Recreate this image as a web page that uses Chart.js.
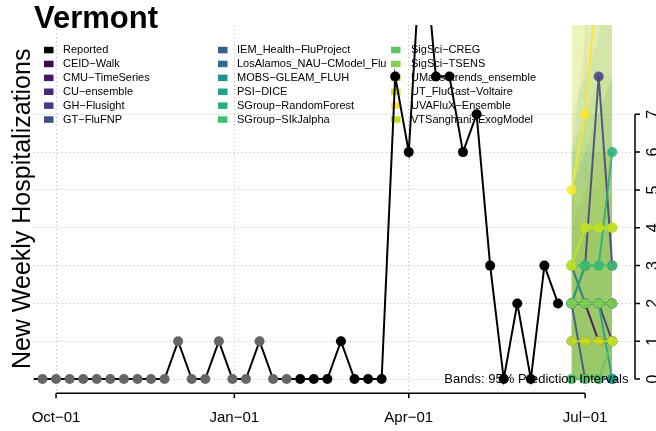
<!DOCTYPE html>
<html>
<head>
<meta charset="utf-8">
<script src="https://cdn.jsdelivr.net/npm/chart.js@4.4.0/dist/chart.umd.min.js"></script>
<style>
  html, body { margin: 0; padding: 0; background: #fff; }
  #wrap { width: 656px; height: 431px; }
</style>
</head>
<body>
<div id="wrap"><canvas id="chart" width="656" height="431"></canvas></div>
<script>
// Reported weekly hospitalizations (weeks ending Saturday)
const reportedDates = [
    '2022-09-17', '2022-09-24', '2022-10-01', '2022-10-08', '2022-10-15', '2022-10-22',
    '2022-10-29', '2022-11-05', '2022-11-12', '2022-11-19', '2022-11-26', '2022-12-03',
    '2022-12-10', '2022-12-17', '2022-12-24', '2022-12-31', '2023-01-07', '2023-01-14',
    '2023-01-21', '2023-01-28', '2023-02-04', '2023-02-11', '2023-02-18', '2023-02-25',
    '2023-03-04', '2023-03-11', '2023-03-18', '2023-03-25', '2023-04-01', '2023-04-08',
    '2023-04-15', '2023-04-22', '2023-04-29', '2023-05-06', '2023-05-13', '2023-05-20',
    '2023-05-27', '2023-06-03', '2023-06-10', '2023-06-17'
];
const reportedValues = [
    0, 0, 0, 0, 0, 0,
    0, 0, 0, 0, 0, 1,
    0, 0, 1, 0, 0, 1,
    0, 0, 0, 0, 0, 1,
    0, 0, 0, 8, 6, 12,
    8, 8, 6, 7, 3, 0,
    2, 0, 3, 2
];
// weeks before this date are drawn with gray points
const firstBlackDate = '2023-02-04';

// Forecasts (4 weekly horizons)
const forecastDates = ['2023-06-24', '2023-07-01', '2023-07-08', '2023-07-15'];
const modelNames = [
    'CEID-Walk', 'CMU-TimeSeries', 'CU-ensemble', 'GH-Flusight', 'GT-FluFNP',
    'IEM_Health-FluProject', 'LosAlamos_NAU-CModel_Flu', 'MOBS-GLEAM_FLUH', 'PSI-DICE',
    'SGroup-RandomForest', 'SGroup-SIkJalpha', 'SigSci-CREG', 'SigSci-TSENS',
    'UMass-trends_ensemble', 'UT_FluCast-Voltaire', 'UVAFluX-Ensemble', 'VTSanghani-ExogModel'
];
const modelColors = [
    '#440154', '#481769', '#472a7a', '#433d84', '#3d4e8a',
    '#355e8d', '#2e6d8e', '#21918c', '#1fa088',
    '#28ae80', '#3fbc73', '#5ec962', '#84d44b',
    '#addc30', '#d2e21b', '#fde725', '#c2df23'
];
const modelMedians = [
    [2, 2, 1, 1], [2, 2, 2, 2], [2, 2, 2, 1], [2, 3, 8, 3], [2, 0, 0, 0],
    [1, 1, 1, 1], [3, 2, 2, 2], [0, 0, 0, 0], [2, 2, 2, 0],
    [2, 3, 3, 6], [3, 3, 3, 3], [0, 0, 0, 1], [2, 2, 2, 2],
    [3, 4, 4, 4], [1, 1, 1, 1], [5, 7, 11, 12], [3, 4, 4, 4]
];
// upper end of 95% intervals (lower ends are 0)
const modelUpper = [
    [4, 5, 6, 6], [5, 6, 7, 8], [4, 5, 5, 6], [6, 9, 14, 9], [5, 4, 4, 4],
    [3, 4, 4, 5], [6, 6, 7, 7], [3, 3, 4, 4], [5, 6, 6, 6],
    [7, 8, 9, 12], [6, 7, 7, 8], [4, 4, 5, 6], [6, 7, 8, 8],
    [10, 11, 12, 12], [5, 5, 6, 6], [12, 14, 20, 22], [10, 11, 12, 13]
];

const tickDates = ['2022-10-01', '2023-01-01', '2023-04-01', '2023-07-01'];
const tickLabels = ['Oct-01', 'Jan-01', 'Apr-01', 'Jul-01'];
const yTicks = [0, 1, 2, 3, 4, 5, 6, 7];

const FONT = '"Liberation Sans", Arial, Helvetica, sans-serif';

// days since the first tick date
const day0 = Date.UTC(2022, 9, 1);
function toDay(s) {
    const [y, m, d] = s.split('-').map(Number);
    return (Date.UTC(y, m - 1, d) - day0) / 86400000;
}

// R style minus signs
function rText(s) {
    return s.replace(/-/g, '\u2212');
}

function alpha(hex, a) {
    const n = parseInt(hex.slice(1), 16);
    return `rgba(${(n >> 16) & 255}, ${(n >> 8) & 255}, ${n & 255}, ${a})`;
}

// x range padded like R (4% each side)
const xFirst = toDay(tickDates[0]);
const xLast = toDay(forecastDates[forecastDates.length - 1]);
const xPad = (xLast - xFirst) * 0.04;
const yPad = 9 * 0.04;

function buildDatasets() {
    const sets = [];
    const blackFrom = toDay(firstBlackDate);
    const n = modelNames.length;

    sets.push({
        label: 'Reported',
        data: reportedDates.map((d, i) => ({ x: toDay(d), y: reportedValues[i] })),
        borderColor: '#000',
        borderWidth: 2,
        pointRadius: 5,
        pointBorderWidth: 0,
        pointBackgroundColor: reportedDates.map(d => toDay(d) < blackFrom ? '#666666' : '#000000'),
        clip: 0,
        order: 0
    });

    // later models drawn on top
    modelNames.forEach((name, m) => {
        sets.push({
            label: name,
            data: forecastDates.map((d, i) => ({ x: toDay(d), y: modelMedians[m][i] })),
            borderColor: alpha(modelColors[m], 0.85),
            borderWidth: 2,
            pointRadius: 5,
            pointBorderWidth: 0,
            pointBackgroundColor: alpha(modelColors[m], 0.85),
            clip: 0,
            order: 1 + n - m
        });
    });

    modelNames.forEach((name, m) => {
        // bright yellow band kept faint
        const a = modelColors[m] === '#fde725' ? 0.07 : 0.06 + 0.006 * m;
        sets.push({
            label: name + ' band',
            data: forecastDates.map((d, i) => ({ x: toDay(d), y: modelUpper[m][i] })),
            borderWidth: 0,
            pointRadius: 0,
            backgroundColor: alpha(modelColors[m], a),
            fill: 'origin',
            clip: 0,
            order: 40 + n - m
        });
    });

    return sets;
}

// Legend, titles and axes drawn R style
const decorations = {
    id: 'decorations',
    beforeDatasetsDraw(chart) {
        const ctx = chart.ctx;
        const names = ['Reported'].concat(modelNames);
        const colors = ['#000000'].concat(modelColors);
        const boxX = [44, 218, 391];
        const textX = [63, 237, 411];
        ctx.save();
        ctx.font = `11px ${FONT}`;
        ctx.textBaseline = 'middle';
        names.forEach((name, i) => {
            const col = Math.floor(i / 6);
            const row = i % 6;
            const y = 50 + row * 13.9;
            ctx.fillStyle = colors[i];
            ctx.fillRect(boxX[col], y - 3.2, 9.5, 6.5);
            ctx.fillStyle = '#000';
            ctx.fillText(rText(name), textX[col], y);
        });
        ctx.restore();
    },
    afterDraw(chart) {
        const ctx = chart.ctx;
        const area = chart.chartArea;
        const xs = chart.scales.x;
        const ys = chart.scales.y;
        ctx.save();

        // note on bands
        ctx.font = `13px ${FONT}`;
        ctx.fillStyle = '#000';
        ctx.textAlign = 'right';
        ctx.textBaseline = 'middle';
        ctx.fillText('Bands: 95% Prediction Intervals', area.right - 6, ys.getPixelForValue(0));

        // x axis line with ticks
        ctx.strokeStyle = '#000';
        ctx.lineWidth = 1.5;
        const xb = area.bottom + 0.5;
        ctx.beginPath();
        ctx.moveTo(xs.getPixelForValue(toDay(tickDates[0])), xb);
        ctx.lineTo(xs.getPixelForValue(toDay(tickDates[tickDates.length - 1])), xb);
        tickDates.forEach(d => {
            const px = xs.getPixelForValue(toDay(d));
            ctx.moveTo(px, xb);
            ctx.lineTo(px, xb + 5);
        });
        ctx.stroke();

        // y axis line with ticks, on the right
        const yr = area.right + 0.5;
        ctx.beginPath();
        ctx.moveTo(yr, ys.getPixelForValue(yTicks[0]));
        ctx.lineTo(yr, ys.getPixelForValue(yTicks[yTicks.length - 1]));
        yTicks.forEach(v => {
            const py = ys.getPixelForValue(v);
            ctx.moveTo(yr, py);
            ctx.lineTo(yr + 5, py);
        });
        ctx.stroke();

        // rotated y tick labels
        ctx.font = `16px ${FONT}`;
        ctx.textAlign = 'center';
        ctx.textBaseline = 'alphabetic';
        yTicks.forEach(v => {
            ctx.save();
            ctx.translate(657.5, ys.getPixelForValue(v));
            ctx.rotate(-Math.PI / 2);
            ctx.fillText(String(v), 0, 0);
            ctx.restore();
        });

        // y axis title on the left
        ctx.save();
        ctx.font = `25px ${FONT}`;
        ctx.translate(30, (area.top + area.bottom) / 2);
        ctx.rotate(-Math.PI / 2);
        ctx.fillText('New Weekly Hospitalizations', 0, 0);
        ctx.restore();

        // main title
        ctx.font = `bold 31px ${FONT}`;
        ctx.textAlign = 'left';
        ctx.fillText('Vermont', 34, 28);

        ctx.restore();
    }
};

function renderChart() {
    const ctx = document.getElementById('chart').getContext('2d');
    const gridColor = '#b8b8b8';

    new Chart(ctx, {
        type: 'line',
        data: { datasets: buildDatasets() },
        options: {
            responsive: false,
            devicePixelRatio: 1,
            animation: false,
            layout: { padding: { left: 33.8, top: 25, right: 0, bottom: 0 } },
            plugins: {
                legend: { display: false },
                tooltip: { enabled: false },
                title: { display: false }
            },
            scales: {
                x: {
                    type: 'linear',
                    position: 'bottom',
                    min: xFirst - xPad,
                    max: xLast + xPad,
                    afterBuildTicks: scale => {
                        scale.ticks = tickDates.map(d => ({ value: toDay(d) }));
                    },
                    afterFit: scale => { scale.height = 38.3; },
                    ticks: {
                        autoSkip: false,
                        maxRotation: 0,
                        padding: 16,
                        color: '#000',
                        font: { family: FONT, size: 15 },
                        callback: (value, index) => rText(tickLabels[index])
                    },
                    grid: { color: gridColor, lineWidth: 1, drawTicks: false },
                    border: { display: false, dash: [1, 3] }
                },
                y: {
                    type: 'linear',
                    position: 'right',
                    min: -yPad,
                    max: 9 + yPad,
                    afterBuildTicks: scale => {
                        scale.ticks = yTicks.map(v => ({ value: v }));
                    },
                    afterFit: scale => { scale.width = 21.5; },
                    ticks: { display: false },
                    grid: { color: gridColor, lineWidth: 1, drawTicks: false },
                    border: { display: false, dash: [1, 3] }
                }
            }
        },
        plugins: [decorations]
    });
}

document.addEventListener('DOMContentLoaded', renderChart);
</script>
</body>
</html>
